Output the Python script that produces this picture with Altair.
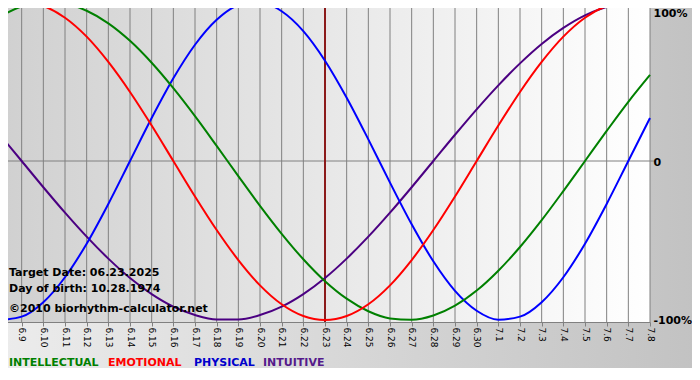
import altair as alt
import pandas as pd

# ---- data ----
start_date = "2025-06-08"
end_date = "2025-07-08"
dates = pd.date_range(start_date, end_date, freq="D").strftime("%Y-%m-%d").tolist()

series_names = ["INTUITIVE", "PHYSICAL", "INTELLECTUAL", "EMOTIONAL"]
series_colors = ["#4b0082", "#0000ff", "#008000", "#ff0000"]

physical = [-1.00, -0.979, -0.888, -0.731, -0.520, -0.270, 0.0, 0.270, 0.520, 0.731,
            0.888, 0.979, 0.998, 0.942, 0.817, 0.631, 0.398, 0.136, -0.136, -0.398,
            -0.631, -0.817, -0.942, -0.998, -0.979, -0.888, -0.731, -0.520, -0.270, 0.0,
            0.270]
emotional = [0.975, 1.0, 0.975, 0.901, 0.782, 0.623, 0.434, 0.223, 0.0, -0.223,
             -0.434, -0.623, -0.782, -0.901, -0.975, -1.0, -0.975, -0.901, -0.782, -0.623,
             -0.434, -0.223, 0.0, 0.223, 0.434, 0.623, 0.782, 0.901, 0.975, 1.0,
             0.975]
intellectual = [0.910, 0.972, 0.999, 0.990, 0.945, 0.866, 0.756, 0.618, 0.458, 0.282,
                0.095, -0.095, -0.282, -0.458, -0.618, -0.756, -0.866, -0.945, -0.990, -0.999,
                -0.972, -0.910, -0.815, -0.690, -0.541, -0.372, -0.189, 0.0, 0.189, 0.372,
                0.541]
intuitive = [0.165, 0.0, -0.165, -0.325, -0.476, -0.614, -0.736, -0.837, -0.916, -0.969,
             -0.997, -0.997, -0.969, -0.916, -0.837, -0.736, -0.614, -0.476, -0.325, -0.165,
             0.0, 0.165, 0.325, 0.476, 0.614, 0.736, 0.837, 0.916, 0.969, 0.997,
             0.997]

target_date = ["2025-06-23"]
zero_line = [0]
y_ticks = [-1, 0, 1]

legend_order = ["INTELLECTUAL", "EMOTIONAL", "PHYSICAL", "INTUITIVE"]
legend_colors = ["#008000", "#ff0000", "#0000cc", "#551a8b"]
legend_x = [8, 107, 193, 262]

info_lines = ["Target Date: 06.23.2025", "Day of birth: 10.28.1974", "\u00a92010 biorhythm-calculator.net"]
info_y = [276, 292, 312]

# ---- build tables ----
values_by_name = {
    "PHYSICAL": physical,
    "EMOTIONAL": emotional,
    "INTELLECTUAL": intellectual,
    "INTUITIVE": intuitive,
}
rows = []
for name in series_names:
    for d, v in zip(dates, values_by_name[name]):
        rows.append({"date": d, "series": name, "value": v})
df = pd.DataFrame(rows)

W, H = 650, 322
one = pd.DataFrame({"a": [0]})

xscale = alt.Scale(type="utc")
yscale = alt.Scale(domain=[-1.0126, 1.0126], nice=False, zero=False)

bg = alt.Chart(one).mark_rect(
    fill={"gradient": "linear", "x1": 0, "y1": 0, "x2": 1, "y2": 0,
          "stops": [{"offset": 0, "color": "#ececec"}, {"offset": 1, "color": "#c2c2c2"}]}
).encode(x=alt.value(0), x2=alt.value(700), y=alt.value(0), y2=alt.value(368))

plotbg = alt.Chart(one).mark_rect(
    fill={"gradient": "linear", "x1": 0, "y1": 0, "x2": 1, "y2": 0,
          "stops": [{"offset": 0, "color": "#d0d0d0"}, {"offset": 1, "color": "#ffffff"}]}
).encode(x=alt.value(0), x2=alt.value(W), y=alt.value(0), y2=alt.value(H))

grid = alt.Chart(pd.DataFrame({"date": dates})).mark_rule(
    color="#808080", strokeWidth=1
).encode(x=alt.X("date:T", scale=xscale))

zero = alt.Chart(pd.DataFrame({"value": zero_line})).mark_rule(
    color="#808080", strokeWidth=1
).encode(y=alt.Y("value:Q", scale=yscale), x=alt.value(0), x2=alt.value(655))

target = alt.Chart(pd.DataFrame({"date": target_date})).mark_rule(
    color="#8b1a1a", strokeWidth=2
).encode(x=alt.X("date:T", scale=xscale))

lines = alt.Chart(df).mark_line(strokeWidth=2, interpolate="monotone").encode(
    x=alt.X("date:T", scale=xscale, title=None,
            axis=alt.Axis(format="%-m.%-d", labelAngle=90, labelAlign="left",
                          labelBaseline="middle", labelFont="DejaVu Sans",
                          labelFontSize=9, labelColor="black",
                          tickCount={"interval": "day", "step": 1},
                          grid=False, domainColor="#808080", tickColor="#808080",
                          tickSize=4, labelPadding=1, labelOverlap=False,
                          labelFlush=False, labelBound=False, zindex=1)),
    y=alt.Y("value:Q", scale=yscale, title=None,
            axis=alt.Axis(orient="right", values=y_ticks,
                          labelExpr="datum.value == 1 ? '100%' : (datum.value == -1 ? '-100%' : '0')",
                          ticks=False, domain=False, grid=False,
                          labelFont="DejaVu Sans", labelFontWeight="bold",
                          labelFontSize=11, labelColor="black", labelPadding=3,
                          labelBaseline="middle", zindex=1,
                          labelOffset={"condition": {"test": "datum.value == 1", "value": 11},
                                       "value": 1})),
    color=alt.Color("series:N", scale=alt.Scale(domain=series_names, range=series_colors),
                    legend=None),
    detail="series:N",
)

layers = [bg, plotbg, grid, zero, target, lines]

for txt, yy in zip(info_lines, info_y):
    layers.append(
        alt.Chart(one).mark_text(text=txt, align="left", baseline="alphabetic",
                                 font="DejaVu Sans", fontWeight="bold", fontSize=11,
                                 color="black")
        .encode(x=alt.value(9), y=alt.value(yy))
    )

for name, col, xx in zip(legend_order, legend_colors, legend_x):
    layers.append(
        alt.Chart(one).mark_text(text=name, align="left", baseline="alphabetic",
                                 font="DejaVu Sans", fontWeight="bold", fontSize=11,
                                 color=col)
        .encode(x=alt.value(xx + 1), y=alt.value(366))
    )

chart = alt.layer(*layers).properties(
    width=W, height=H,
    autosize=alt.AutoSizeParams(type="none"),
    padding={"left": -8, "top": -8, "right": 42, "bottom": 46},
    background="white",
).configure_view(stroke=None)

chart.save("out.html", embed_options={"renderer": "svg", "actions": False})
